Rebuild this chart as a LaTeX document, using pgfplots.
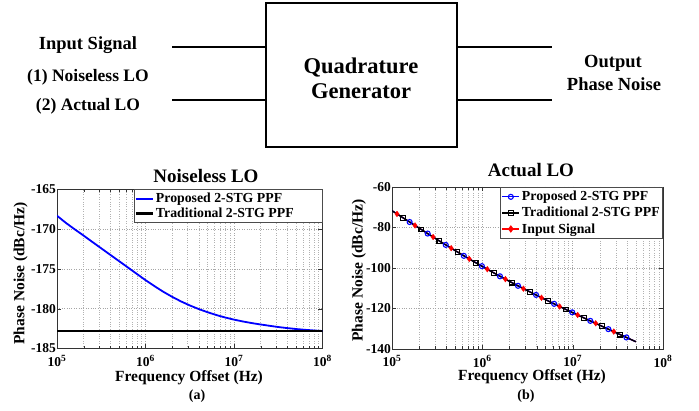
\documentclass[border=0pt]{standalone}
\usepackage{pgfplots}
\pgfplotsset{compat=1.18}
\usepackage{pgfplotstable}
\usepackage{fontspec}
\setmainfont{Liberation Serif}
\newcommand\fs[1]{\fontsize{#1}{#1}\selectfont\bfseries}
\newcommand\padr{\rule{26pt}{0pt}}

% ---------- (a) Noiseless LO ----------
\pgfplotstableread{
f y
1e5 -168.3
1.26e5 -169.2
1.58e5 -170.0
2e5 -170.8
2.51e5 -171.6
3.16e5 -172.4
3.98e5 -173.2
5.01e5 -174.0
6.31e5 -174.8
7.94e5 -175.6
1e6 -176.4
1.26e6 -177.15
1.58e6 -177.85
2e6 -178.5
2.51e6 -179.07
3.16e6 -179.58
3.98e6 -180.03
5.01e6 -180.43
6.31e6 -180.79
7.94e6 -181.1
1e7 -181.37
1.26e7 -181.6
1.58e7 -181.8
2e7 -181.98
2.51e7 -182.14
3.16e7 -182.3
3.98e7 -182.43
5.01e7 -182.55
6.31e7 -182.65
7.94e7 -182.73
1e8 -182.8
}\propA
\pgfplotstableread{
f y
1e5 -182.8
1e8 -182.8
}\tradA

% ---------- (b) Actual LO ----------
\pgfplotstableread{
f y
1e5 -71.7
1.567e5 -77.3
2.483e5 -83.0
3.936e5 -88.6
6.237e5 -94.0
9.886e5 -99.1
1.567e6 -104.1
2.483e6 -108.8
3.936e6 -113.3
6.237e6 -117.7
9.886e6 -121.9
1.567e7 -126.1
2.483e7 -130.2
3.936e7 -134.3
5e7 -136.4
}\propB
\pgfplotstableread{
f y
1e5 -71.7
1.334e5 -75.3
2.113e5 -81.0
3.350e5 -86.7
5.309e5 -92.1
8.414e5 -97.4
1.334e6 -102.4
2.113e6 -107.2
3.350e6 -111.8
5.309e6 -116.2
8.414e6 -120.5
1.334e7 -124.7
2.113e7 -128.8
3.350e7 -132.9
5e7 -136.4
}\tradB
\pgfplotstableread{
f y
1e5 -71.7
1.135e5 -73.3
1.799e5 -79.0
2.851e5 -84.7
4.519e5 -90.2
7.161e5 -95.5
1.135e6 -100.6
1.799e6 -105.5
2.851e6 -110.2
4.519e6 -114.7
7.161e6 -119.0
1.135e7 -123.2
1.799e7 -127.3
2.851e7 -131.4
5e7 -136.4
}\inB

\begin{document}
\begin{tikzpicture}
\useasboundingbox (0,0) rectangle (699pt,411pt);

% ---- block diagram ----
\draw[line width=2pt] (266pt,407.5pt) rectangle (457pt,264pt);
\draw[line width=2pt] (172pt,363.7pt) -- (266pt,363.7pt);
\draw[line width=2pt] (172pt,311pt) -- (266pt,311pt);
\draw[line width=2pt] (457pt,363.7pt) -- (552pt,363.7pt);
\draw[line width=2pt] (457pt,311pt) -- (552pt,311pt);
\node[anchor=base,inner sep=0pt] at (88pt,361pt) {\fs{18.5}Input Signal};
\node[anchor=base,inner sep=0pt] at (88pt,329pt) {\fs{17.5}(1) Noiseless LO};
\node[anchor=base,inner sep=0pt] at (88pt,300pt) {\fs{17.5}(2) Actual LO};
\node[anchor=base,inner sep=0pt] at (361pt,337pt) {\fs{22.5}Quadrature};
\node[anchor=base,inner sep=0pt] at (361pt,312pt) {\fs{22.5}Generator};
\node[anchor=base,inner sep=0pt] at (613pt,343pt) {\fs{18.5}Output};
\node[anchor=base,inner sep=0pt] at (614pt,320pt) {\fs{18.5}Phase Noise};

% ---- (a) ----
\begin{axis}[scale only axis, anchor=south west, at={(57pt,62.5pt)}, width=265.5pt, height=159pt,
    xmode=log, xmin=1e5, xmax=1e8,
    xtick={1e5,1e6,1e7,1e8},
    xticklabels={10\textsuperscript{5},10\textsuperscript{6},10\textsuperscript{7},10\textsuperscript{8}},
    xmajorgrids=true, xminorgrids=true, ymajorgrids=true,
    minor y tick num=0,
    major grid style={dotted, black!35, line width=0.5pt},
    minor grid style={dotted, black!30, line width=0.5pt},
    tick label style={font=\fs{13.5}},
    yticklabel style={inner xsep=1pt},
    xticklabel style={yshift=-3pt},
    axis line style={line width=0.6pt, black!80},
    tick style={black!80},
    tick align=inside,
    legend cell align=left,
    legend style={font=\fs{13.8}, at={(1,1)}, anchor=north east,
      draw=black!70, line width=0.6pt, inner xsep=0.5pt, inner ysep=1.5pt, row sep=-0.5pt},
  ymin=-185, ymax=-165, ytick={-185,-180,-175,-170,-165},
  yticklabels={-185,-180,-175,-170,-165}]
\addplot[blue, line width=1.8pt] table[x=f,y=y]{\propA};
\addlegendentry{Proposed 2-STG PPF}
\addplot[black, line width=2.2pt] table[x=f,y=y]{\tradA};
\addlegendentry{Traditional 2-STG PPF\padr}
\end{axis}
\node[anchor=base,inner sep=0pt] at (206pt,228pt) {\fs{19}Noiseless LO};
\node[anchor=base,inner sep=0pt] at (189pt,29.5pt) {\fs{15.5}Frequency Offset (Hz)};
\node[anchor=base,inner sep=0pt] at (197pt,11.5pt) {\fs{14}(a)};
\node[rotate=90,inner sep=0pt] at (20.7pt,137.5pt) {\fs{15.5}Phase Noise (dBc/Hz)};

% ---- (b) ----
\begin{axis}[scale only axis, anchor=south west, at={(392pt,62pt)}, width=271pt, height=162pt,
    xmode=log, xmin=1e5, xmax=1e8,
    xtick={1e5,1e6,1e7,1e8},
    xticklabels={10\textsuperscript{5},10\textsuperscript{6},10\textsuperscript{7},10\textsuperscript{8}},
    xmajorgrids=true, xminorgrids=true, ymajorgrids=true,
    minor y tick num=0,
    major grid style={dotted, black!35, line width=0.5pt},
    minor grid style={dotted, black!30, line width=0.5pt},
    tick label style={font=\fs{13.5}},
    yticklabel style={inner xsep=1pt},
    xticklabel style={yshift=-3pt},
    axis line style={line width=0.6pt, black!80},
    tick style={black!80},
    tick align=inside,
    legend cell align=left,
    legend style={font=\fs{13.8}, at={(1,1)}, anchor=north east,
      draw=black!70, line width=0.6pt, inner xsep=1pt, inner ysep=2pt, row sep=1pt},
  ymin=-140, ymax=-60, ytick={-140,-120,-100,-80,-60},
  yticklabels={-140,-120,-100,-80,-60}]
\addlegendimage{blue, line width=1.2pt, mark=o, mark size=2.5pt, mark options={line width=1.1pt}}
\addlegendentry{Proposed 2-STG PPF}
\addlegendimage{black, line width=1.2pt, mark=square, mark size=2.4pt, mark options={line width=1.1pt}}
\addlegendentry{Traditional 2-STG PPF}
\addlegendimage{red, line width=1.2pt, mark=diamond*, mark size=2.8pt}
\addlegendentry{Input Signal}
\addplot[red, line width=1.3pt, forget plot] table[x=f,y=y]{\inB};
\addplot[blue, line width=1.3pt, forget plot] table[x=f,y=y]{\propB};
\addplot[black, line width=1.3pt, forget plot] table[x=f,y=y]{\tradB};
\addplot[blue, only marks, mark=o, mark size=2.5pt, mark options={line width=1.1pt}, forget plot,
  skip coords between index={0}{1}, skip coords between index={14}{15}] table[x=f,y=y]{\propB};
\addplot[black, only marks, mark=square, mark size=2.4pt, mark options={line width=1.1pt}, forget plot,
  skip coords between index={0}{1}, skip coords between index={14}{15}] table[x=f,y=y]{\tradB};
\addplot[red, only marks, mark=diamond*, mark size=2.8pt, forget plot,
  skip coords between index={0}{1}, skip coords between index={14}{15}] table[x=f,y=y]{\inB};
\end{axis}
\node[anchor=base,inner sep=0pt] at (531pt,234pt) {\fs{19}Actual LO};
\node[anchor=base,inner sep=0pt] at (532pt,30pt) {\fs{15.5}Frequency Offset (Hz)};
\node[anchor=base,inner sep=0pt] at (526pt,11.5pt) {\fs{14}(b)};
\node[rotate=90,inner sep=0pt] at (359pt,140.5pt) {\fs{15.5}Phase Noise (dBc/Hz)};
\end{tikzpicture}
\end{document}
